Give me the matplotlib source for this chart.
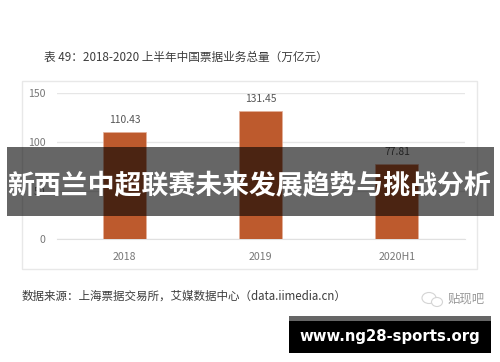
import matplotlib

matplotlib.use("agg")
import matplotlib.pyplot as plt
from matplotlib.patches import Ellipse, Rectangle

plt.rcParams["font.family"] = ["Noto Sans CJK SC", "DejaVu Sans"]

categories = ["2018", "2019", "2020H1"]
values = [110.43, 131.45, 77.81]
y_ticks = [0, 50, 100, 150]

title = "表 49：2018-2020 上半年中国票据业务总量（万亿元）"
source = "数据来源：上海票据交易所，艾媒数据中心（data.iimedia.cn）"
headline = "新西兰中超联赛未来发展趋势与挑战分析"
site = "www.ng28-sports.org"
mark = "贴现吧"

W, H = 500, 362
fig = plt.figure(figsize=(W / 100, H / 100), dpi=100)

# back layer, pixel coordinates
bg = fig.add_axes([0, 0, 1, 1], zorder=0)
bg.set_xlim(0, W)
bg.set_ylim(H, 0)
bg.axis("off")
bg.add_patch(Rectangle((21.5, 81), 455.5, 188, fc="white", ec="#e8e8e8", lw=1))
bg.text(44, 57, title, fontsize=8.4, color="#3c3c3c", va="center")
bg.text(22, 296, source, fontsize=8.3, color="#3c3c3c", va="center")

# chart
ax = fig.add_axes([56.7 / W, 1 - 239.3 / H, 408.3 / W, 146 / H], zorder=1)
ax.patch.set_alpha(0)
ax.bar(categories, values, width=0.316, color="#bd5a2d", edgecolor="#e3b09a", lw=0.5, zorder=3)
ax.set_xlim(-0.5, 2.5)
ax.set_ylim(0, 150)
ax.set_yticks(y_ticks)
ax.grid(axis="y", color="#e6e6e6", lw=1)
ax.set_axisbelow(True)
for s in ["top", "right", "left"]:
    ax.spines[s].set_visible(False)
ax.spines["bottom"].set_color("#e0e0e0")
ax.tick_params(length=0, labelsize=7.6, labelcolor="#777777")
ax.tick_params(axis="x", pad=9)
ax.tick_params(axis="y", pad=8)
ax.bar_label(ax.containers[0], labels=[f"{v:.2f}" for v in values], padding=5, fontsize=7.4, color="#555555")

# overlay layer
top = fig.add_axes([0, 0, 1, 1], zorder=2)
top.set_xlim(0, W)
top.set_ylim(H, 0)
top.axis("off")
top.patch.set_alpha(0)
top.add_patch(Rectangle((7, 147), 487, 69, fc="black", alpha=0.6, lw=0))
top.text(249.5, 186, headline, fontsize=19.4, fontweight="bold", color="white", ha="center", va="center")
top.add_patch(Rectangle((289, 316), 202, 5, fc="#666666", lw=0))
top.add_patch(Rectangle((289, 321), 202, 32, fc="black", lw=0))
top.text(390, 336.5, site, fontsize=10.7, fontweight="bold", color="white", ha="center", va="center",
         family="DejaVu Sans")

# wechat style mark
top.add_patch(Ellipse((429, 298), 14, 11, fc="white", ec="#d4d4d4", lw=0.8))
top.add_patch(Ellipse((437, 302), 11, 9, fc="white", ec="#d4d4d4", lw=0.8))
top.text(447, 299, mark, fontsize=8.9, color="#999999", va="center")

fig.savefig("out.png", dpi=100)
